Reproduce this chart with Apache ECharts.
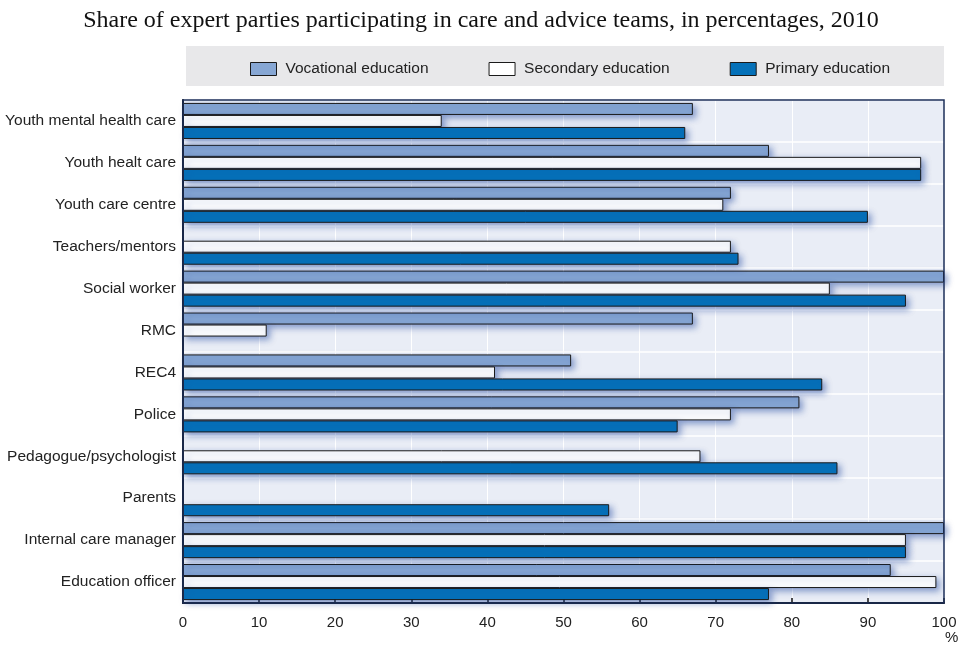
<!DOCTYPE html>
<html><head><meta charset="utf-8">
<script src="https://cdn.jsdelivr.net/npm/echarts@6/dist/echarts.min.js"></script>
<style>html,body{margin:0;padding:0;background:#fff}#c{width:962px;height:647px}</style>
</head><body><div id="c"></div>
<script>
const categories = ["Youth mental health care","Youth healt care","Youth care centre","Teachers/mentors","Social worker","RMC","REC4","Police","Pedagogue/psychologist","Parents","Internal care manager","Education officer"];
const vocational = [67,77,72,null,100,67,51,81,null,null,100,93];
const secondary  = [34,97,71,72,85,11,41,72,68,null,95,99];
const primary    = [66,97,90,73,95,null,84,65,86,56,95,77];
const xTicks = [0,10,20,30,40,50,60,70,80,90,100];

const chart = echarts.init(document.getElementById('c'));
const shadow = {shadowColor:'rgba(30,70,160,0.5)',shadowBlur:6,shadowOffsetX:3,shadowOffsetY:3};
function ser(name, data, color){
  return {name, type:'bar', data, barGap:'0%', barCategoryGap:'14%', xAxisIndex:0, yAxisIndex:0,
    itemStyle:Object.assign({color, borderColor:'#1a1a1a', borderWidth:1}, shadow)};
}
const gridBox = {left:183, right:18, top:100, bottom:44};
chart.setOption({
  animation:false,
  title:{text:'Share of expert parties participating in care and advice teams, in percentages, 2010',
    left:'center', top:4, textStyle:{fontFamily:'Liberation Serif', fontSize:24, fontWeight:'normal', color:'#111'}},
  graphic:[
    {type:'rect', left:186, top:46, shape:{width:758, height:40}, style:{fill:'#e8e8ea'}, z:-1},
    {type:'text', left:945, top:630, style:{text:'%', font:'15px Liberation Sans', fill:'#222'}}
  ],
  legend:{top:56, left:245, itemWidth:26, itemHeight:13, itemGap:60, icon:'rect',
    itemStyle:{shadowBlur:0, shadowOffsetX:0, shadowOffsetY:0, borderColor:'#1a1a1a', borderWidth:1},
    textStyle:{fontFamily:'Liberation Sans', fontSize:15.5, color:'#222', padding:[0,0,0,4]},
    data:['Vocational education','Secondary education','Primary education']},
  grid:[
    Object.assign({show:true, backgroundColor:'#e9edf6', borderWidth:0}, gridBox),
    Object.assign({show:true, backgroundColor:'transparent', borderColor:'#1d2f5a', borderWidth:1.5, z:10}, gridBox)
  ],
  xAxis:[{type:'value', min:0, max:100, interval:10, gridIndex:0,
    axisLine:{show:true, lineStyle:{color:'#111', width:2}},
    axisTick:{show:true, inside:true, length:5, lineStyle:{color:'#111', width:1.5}},
    axisLabel:{fontFamily:'Liberation Sans', fontSize:15, color:'#222', margin:12,
      formatter:v=>xTicks.includes(v)?String(v):''},
    splitLine:{show:true, lineStyle:{color:'#ffffff', width:1}}},
    {type:'value', gridIndex:1, show:false, min:0, max:100}],
  yAxis:[{type:'category', data:categories, inverse:true, gridIndex:0,
    axisLine:{show:true, lineStyle:{color:'#111', width:2}, onZero:false},
    axisTick:{show:false},
    axisLabel:{fontFamily:'Liberation Sans', fontSize:15.5, color:'#222', margin:7, padding:[3,0,0,0]},
    splitLine:{show:true, lineStyle:{color:'#ffffff', width:1.5}}},
    {type:'category', gridIndex:1, show:false, data:categories}],
  series:[
    ser('Vocational education', vocational, '#87a7d4'),
    ser('Secondary education', secondary, '#ffffff'),
    ser('Primary education', primary, '#0571b9')
  ]
});
</script></body></html>
